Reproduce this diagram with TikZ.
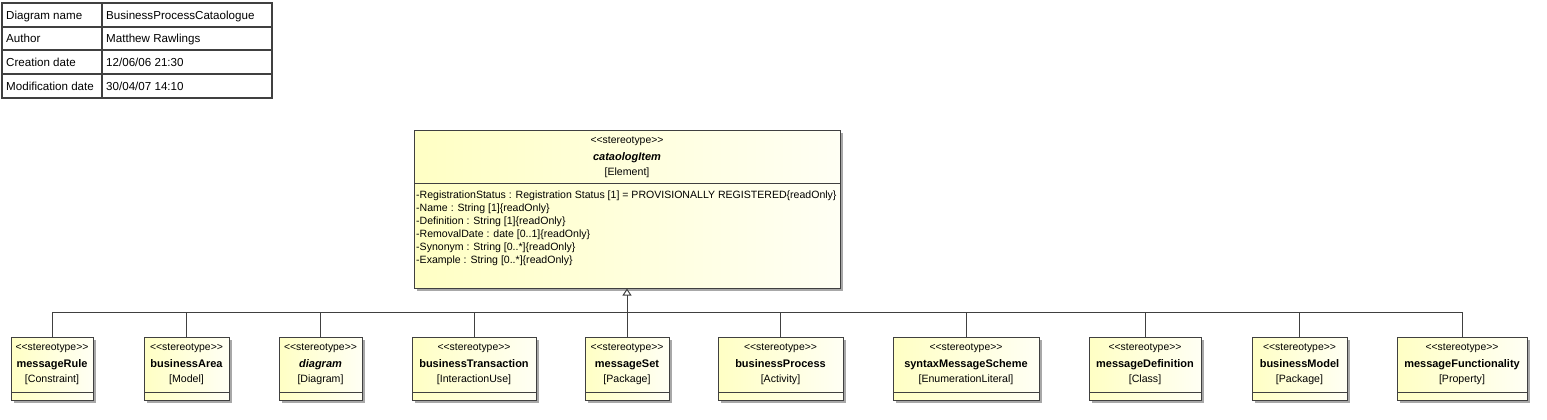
\documentclass[tikz,border=0pt]{standalone}
\usepackage{fontspec}
\setmainfont{Liberation Sans}
\usetikzlibrary{arrows.meta,shadows}
\definecolor{umlline}{HTML}{404040}
\definecolor{umlfillA}{HTML}{FFFFC4}
\definecolor{umlfillB}{HTML}{FFFFF4}
\definecolor{umlshadow}{HTML}{A8A8A8}
\tikzset{
  umlbox/.style={draw=umlline, line width=1pt, left color=umlfillA, right color=umlfillB,
    inner sep=0pt, drop shadow={shadow xshift=3pt, shadow yshift=-3pt, fill=umlshadow, opacity=1}},
  compline/.style={draw=umlline, line width=1pt},
  conn/.style={draw=umlline, line width=1pt},
  stereo/.style={anchor=base, inner sep=0pt, font=\fontsize{10.4}{12}\selectfont},
  cname/.style={anchor=base, inner sep=0pt, font=\fontsize{11}{13}\selectfont\bfseries},
  cnameabs/.style={anchor=base, inner sep=0pt, font=\fontsize{11}{13}\selectfont\bfseries\itshape},
  meta/.style={anchor=base, inner sep=0pt, font=\fontsize{10.6}{12}\selectfont},
  attr/.style={anchor=base west, inner sep=0pt, font=\fontsize{10.55}{12}\selectfont},
  tabline/.style={draw=umlline, line width=1.6pt},
  tabtext/.style={anchor=base west, inner sep=0pt, font=\fontsize{11.6}{13}\selectfont},
}
\newcommand{\stereotxt}{<\kern0pt<stereotype>\kern0pt>}
\newcommand{\childbox}[6]{%
  \node[umlbox, minimum width={#3-#2}, minimum height=63] (#1) at ({(#2+#3)/2},368.5) {};
  \draw[compline] ({#2},392) -- ({#3},392);
  \node[stereo] (#1-st) at ({(#2+#3)/2},350.5) {\stereotxt};
  \node[#6] (#1-nm) at ({(#2+#3)/2},367.5) {#4};
  \node[meta] (#1-mt) at ({(#2+#3)/2},382.5) {#5};
}
\begin{document}
\begin{tikzpicture}[x=1pt,y=-1pt]
\useasboundingbox (0,0) rectangle (1547,420);
% header table
\draw[tabline] (2,3) rectangle (272,98);
\draw[tabline] (2,27) -- (272,27);
\draw[tabline] (2,50) -- (272,50);
\draw[tabline] (2,74) -- (272,74);
\draw[tabline] (102,3) -- (102,98);
\node[tabtext] (t1a) at (6,19.5) {Diagram name};
\node[tabtext] (t1b) at (106,19.5) {BusinessProcessCataologue};
\node[tabtext] (t2a) at (6,43) {Author};
\node[tabtext] (t2b) at (106,43) {Matthew Rawlings};
\node[tabtext] (t3a) at (6,66.5) {Creation date};
\node[tabtext] (t3b) at (106,66.5) {12/06/06 21:30};
\node[tabtext] (t4a) at (6,90.5) {Modification date};
\node[tabtext] (t4b) at (106,90.5) {30/04/07 14:10};
% main stereotype
\node[umlbox, minimum width=426, minimum height=158] (ci) at (627,209) {};
\draw[compline] (414,183) -- (840,183);
\node[stereo] (ci-st) at (627,143.5) {\stereotxt};
\node[cnameabs] (ci-nm) at (627,160.5) {cataologItem};
\node[meta] (ci-mt) at (627,175.5) {[Element]};
\node[attr] (a1) at (416,198) {-RegistrationStatus : Registration Status [1] = PROVISIONALLY REGISTERED\{readOnly\}};
\node[attr] (a2) at (416,211) {-Name : String [1]\{readOnly\}};
\node[attr] (a3) at (416,224) {-Definition : String [1]\{readOnly\}};
\node[attr] (a4) at (416,237) {-RemovalDate : date [0..1]\{readOnly\}};
\node[attr] (a5) at (416,250) {-Synonym : String [0..*]\{readOnly\}};
\node[attr] (a6) at (416,263) {-Example : String [0..*]\{readOnly\}};
% children
\childbox{mr}{11}{93}{messageRule}{[Constraint]}{cname}
\childbox{ba}{144}{229}{businessArea}{[Model]}{cname}
\childbox{dg}{279}{362}{diagram}{[Diagram]}{cnameabs}
\childbox{bt}{412}{536}{businessTransaction}{[InteractionUse]}{cname}
\childbox{ms}{585}{669}{messageSet}{[Package]}{cname}
\childbox{bp}{718}{843}{businessProcess}{[Activity]}{cname}
\childbox{sm}{893}{1039}{syntaxMessageScheme}{[EnumerationLiteral]}{cname}
\childbox{md}{1089}{1201}{messageDefinition}{[Class]}{cname}
\childbox{bm}{1252}{1347}{businessModel}{[Package]}{cname}
\childbox{mf}{1397}{1527}{messageFunctionality}{[Property]}{cname}
% generalization tree
\coordinate (bus) at (627,312);
\draw[conn] (mr.north |- bus) -- (mf.north |- bus);
\foreach \c in {mr,ba,dg,bt,ms,bp,sm,md,bm,mf}{
  \draw[conn] (\c.north) -- (\c.north |- bus);
}
\draw[conn, -{Triangle[open, width=9pt, length=7pt]}] (bus) -- (ci.south);
\end{tikzpicture}
\end{document}
